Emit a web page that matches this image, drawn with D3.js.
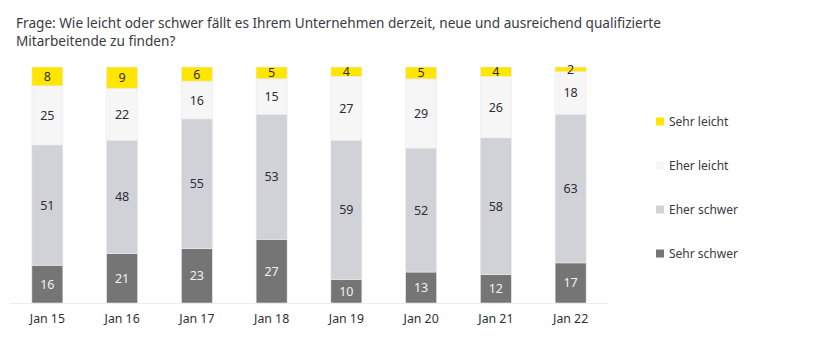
<!DOCTYPE html>
<html><head><meta charset="utf-8">
<script src="https://cdn.jsdelivr.net/npm/d3@7"></script>
<style>body{margin:0;background:#fff}svg{display:block}</style>
</head><body>
<svg id="c" width="825" height="354"></svg>
<script>
const title = ["Frage: Wie leicht oder schwer fällt es Ihrem Unternehmen derzeit, neue und ausreichend qualifizierte", "Mitarbeitende zu finden?"];
const categories = ["Jan 15","Jan 16","Jan 17","Jan 18","Jan 19","Jan 20","Jan 21","Jan 22"];
const seriesNames = ["Sehr schwer","Eher schwer","Eher leicht","Sehr leicht"];
const sehrSchwer = [16,21,23,27,10,13,12,17];
const eherSchwer = [51,48,55,53,59,52,58,63];
const eherLeicht = [25,22,16,15,27,29,26,18];
const sehrLeicht = [8,9,6,5,4,5,4,2];
const colors = ["#757575","#d1d1d8","#f6f6f6","#ffe600"];
const textColors = ["#f2f2f2","#2e2e38","#2e2e38","#2e2e38"];
const legendOrder = ["Sehr leicht","Eher leicht","Eher schwer","Sehr schwer"];

const rows = categories.map((c,i)=>({cat:c,"Sehr schwer":sehrSchwer[i],"Eher schwer":eherSchwer[i],"Eher leicht":eherLeicht[i],"Sehr leicht":sehrLeicht[i]}));
const stack = d3.stack().keys(seriesNames).offset(d3.stackOffsetExpand)(rows);

const svg = d3.select("#c");
const font = "'Noto Sans', sans-serif";

svg.append("g").selectAll("text").data(title).join("text")
  .attr("x",16).attr("y",(d,i)=>28+i*18)
  .attr("font-family",font).attr("font-size",13.6).attr("fill","#3a3a44").text(d=>d);

const x = d3.scaleBand().domain(categories).range([10,608]).paddingInner(0.585).paddingOuter(0.2925);
const y = d3.scaleLinear().domain([0,1]).range([303,67]);

svg.append("line").attr("x1",10).attr("x2",608).attr("y1",303.5).attr("y2",303.5)
  .attr("stroke","#ececec").attr("stroke-width",1);

const g = svg.append("g");
stack.forEach((s,si)=>{
  const sg = g.append("g");
  sg.selectAll("rect").data(s).join("rect")
    .attr("x",d=>x(d.data.cat)).attr("width",x.bandwidth())
    .attr("y",d=>y(d[1])).attr("height",d=>y(d[0])-y(d[1]))
    .attr("fill",colors[si]).attr("stroke","#ebebeb").attr("stroke-width",0.6);
  sg.selectAll("text").data(s).join("text")
    .attr("x",d=>x(d.data.cat)+x.bandwidth()/2)
    .attr("y",d=>(y(d[0])+y(d[1]))/2)
    .attr("dy","0.36em").attr("text-anchor","middle")
    .attr("font-family",font).attr("font-size",12.5).attr("fill",textColors[si])
    .text(d=>d.data[s.key]);
});

const xa = svg.append("g").attr("transform","translate(0,303)")
  .call(d3.axisBottom(x).tickSize(0).tickPadding(11));
xa.select(".domain").remove();
xa.selectAll("text").attr("font-family",font).attr("font-size",12.3).attr("fill","#2e2e38");

const lg = svg.append("g");
const ly = d3.scalePoint().domain(legendOrder).range([121.5,253.5]);
legendOrder.forEach(n=>{
  const i = seriesNames.indexOf(n);
  lg.append("rect").attr("x",656).attr("y",ly(n)-4).attr("width",8).attr("height",8).attr("fill",colors[i]);
  lg.append("text").attr("x",669).attr("y",ly(n)).attr("dy","0.35em")
    .attr("font-family",font).attr("font-size",12).attr("fill","#3a3a44").text(n);
});
</script>
</body></html>
